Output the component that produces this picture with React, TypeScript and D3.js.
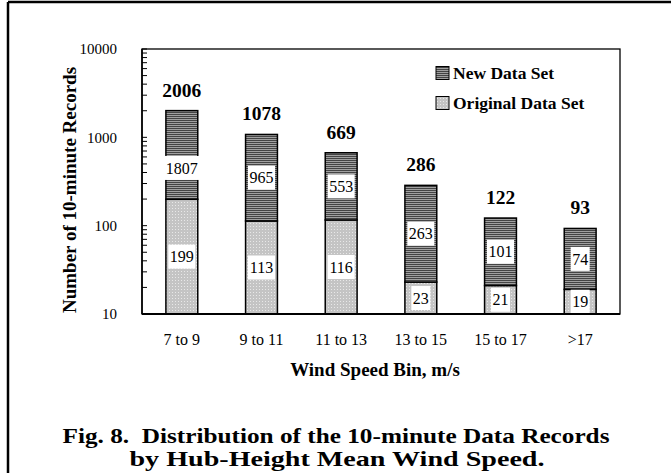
import React from "react";
import * as d3 from "d3";

const categories = ["7 to 9", "9 to 11", "11 to 13", "13 to 15", "15 to 17", ">17"];
const originalData = [199, 113, 116, 23, 21, 19];
const newData = [1807, 965, 553, 263, 101, 74];
const totals = [2006, 1078, 669, 286, 122, 93];
const yTickValues = [10, 100, 1000, 10000];
const legendItems = [
  { label: "New Data Set", key: "new" },
  { label: "Original Data Set", key: "orig" },
];

const W = 671;
const H = 473;
const M = { left: 142, right: 620, top: 49, bottom: 314 };
const serif = "'Liberation Serif', 'Times New Roman', serif";

export default function App() {
  const x = d3.scaleBand<string>().domain(categories).range([M.left, M.right]).paddingInner(0.6).paddingOuter(0.3);
  const y = d3.scaleLog().domain([10, 10000]).range([M.bottom, M.top]);
  const minor: number[] = [];
  [10, 100, 1000].forEach((d) => {
    for (let k = 1; k <= 9; k++) minor.push(d * k);
  });
  minor.push(10000);
  const bw = x.bandwidth();

  return (
    <svg width={W} height={H} style={{ position: "fixed", left: 0, top: 0, background: "#fff" }} fontFamily={serif}>
      <defs>
        <pattern id="stripes" width="4" height="2" patternUnits="userSpaceOnUse">
          <rect width="4" height="2" fill="#a0a0a0" />
          <rect width="4" height="1" fill="#444" />
        </pattern>
        <pattern id="dots" width="3" height="3" patternUnits="userSpaceOnUse">
          <rect width="3" height="3" fill="#c4c4c4" />
          <rect x="1" y="1" width="1" height="1" fill="#e8e8e8" />
        </pattern>
      </defs>
      {/* outer frame */}
      <line x1={8} y1={2} x2={671} y2={2} stroke="#000" strokeWidth={2.5} />
      <line x1={8} y1={2} x2={8} y2={473} stroke="#000" strokeWidth={2.5} />

      {/* plot border */}
      <rect x={M.left} y={M.top} width={M.right - M.left} height={M.bottom - M.top} fill="none" stroke="#000" strokeWidth={1.3} />

      {/* bars */}
      {categories.map((c, i) => {
        const x0 = x(c)!;
        const yTot = y(totals[i]);
        const yOrig = y(originalData[i]);
        const yBase = y(10);
        const nudge = i === 0 ? 13 : 0;
        const midNew = (yTot + yOrig) / 2 + nudge;
        const midOrig = (yOrig + yBase) / 2;
        const cx = x0 + bw / 2;
        const lblNew = String(newData[i]);
        const lblOrig = String(originalData[i]);
        const wNew = lblNew.length * 8 + 3;
        const wOrig = lblOrig.length * 8 + 3;
        return (
          <g key={c}>
            <rect x={x0} y={yOrig} width={bw} height={yBase - yOrig} fill="url(#dots)" stroke="#000" strokeWidth={1.5} />
            <rect x={x0} y={yTot} width={bw} height={yOrig - yTot} fill="url(#stripes)" stroke="#000" strokeWidth={1.5} />
            <rect x={cx - wNew / 2} y={midNew - 12} width={wNew} height={24} fill="#fff" />
            <text x={cx} y={midNew} dy="0.35em" textAnchor="middle" fontSize={16}>{lblNew}</text>
            <rect x={cx - wOrig / 2} y={midOrig - 12} width={wOrig} height={24} fill="#fff" />
            <text x={cx} y={midOrig} dy="0.35em" textAnchor="middle" fontSize={16}>{lblOrig}</text>
            <text x={cx} y={yTot - 14} textAnchor="middle" fontSize={19.5} fontWeight="bold">{totals[i]}</text>
          </g>
        );
      })}

      {/* y axis */}
      <line x1={M.left} y1={M.top} x2={M.left} y2={M.bottom} stroke="#000" strokeWidth={1.5} />
      {minor.map((v) => (
        <line key={v} x1={M.left} x2={M.left + 5} y1={y(v)} y2={y(v)} stroke="#000" strokeWidth={1} />
      ))}
      {yTickValues.map((v) => (
        <text key={v} x={117} y={y(v)} dy="0.35em" textAnchor="end" fontSize={15}>{v}</text>
      ))}
      {/* x axis */}
      <line x1={M.left} y1={M.bottom} x2={M.right} y2={M.bottom} stroke="#000" strokeWidth={2} />
      {categories.map((c) => (
        <text key={c} x={x(c)! + bw / 2} y={339} dy="0.35em" textAnchor="middle" fontSize={16}>{c}</text>
      ))}

      {/* axis titles */}
      <text x={375} y={369} dy="0.35em" textAnchor="middle" fontSize={19} fontWeight="bold">Wind Speed Bin, m/s</text>
      <text transform={`translate(69,190) rotate(-90)`} dy="0.35em" textAnchor="middle" fontSize={19} fontWeight="bold">Number of 10-minute Records</text>

      {/* legend */}
      {legendItems.map((d, i) => (
        <g key={d.key} transform={`translate(436,${73 + i * 30})`}>
          <rect x={0} y={-6.5} width={13} height={13} fill={d.key === "new" ? "url(#stripes)" : "url(#dots)"} stroke="#000" strokeWidth={1} />
          <text x={17} y={0} dy="0.35em" fontSize={17.5} fontWeight="bold">{d.label}</text>
        </g>
      ))}

      {/* caption */}
      <text x={336} y={435} dy="0.35em" textAnchor="middle" fontSize={22} fontWeight="bold" textLength={547} lengthAdjust="spacingAndGlyphs" style={{ whiteSpace: "pre" }}>Fig. 8.  Distribution of the 10-minute Data Records</text>
      <text x={337} y={458} dy="0.35em" textAnchor="middle" fontSize={22} fontWeight="bold" textLength={415} lengthAdjust="spacingAndGlyphs">by Hub-Height Mean Wind Speed.</text>
    </svg>
  );
}
